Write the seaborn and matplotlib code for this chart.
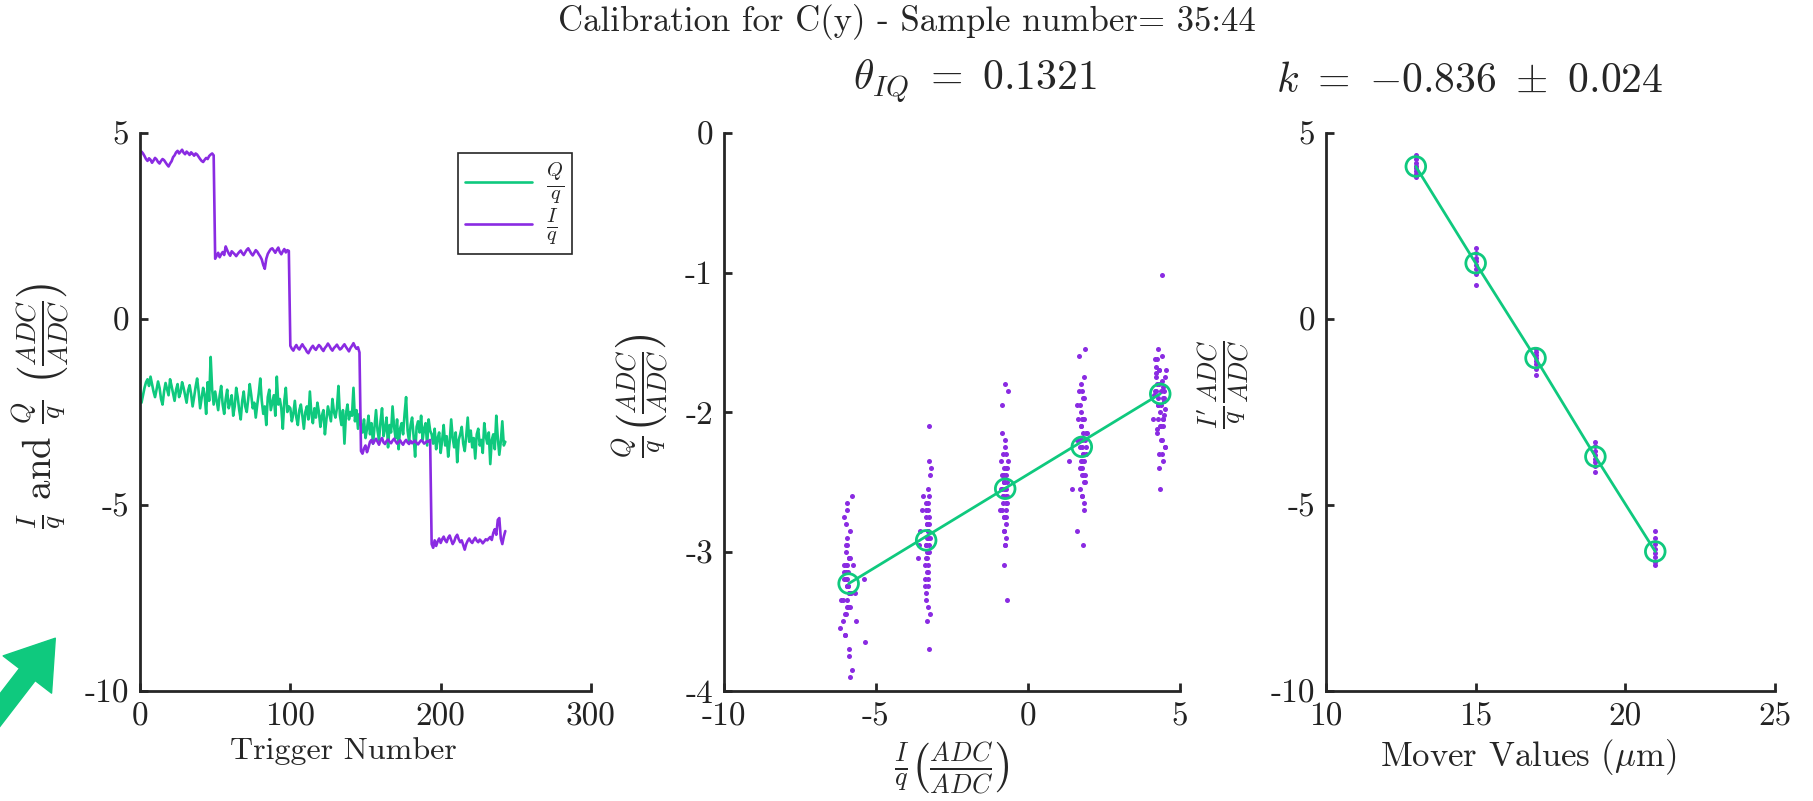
import numpy as np
import pandas as pd
import matplotlib
matplotlib.use("Agg")
import matplotlib.pyplot as plt
import seaborn as sns
from matplotlib.patches import FancyArrowPatch

# ── data ─────────────────────────────────────────────────────────────────────
i_seg1 = [4.50, 4.45, 4.38, 4.30, 4.25, 4.32, 4.28, 4.20, 4.26, 4.33,
          4.29, 4.22, 4.18, 4.25, 4.30, 4.27, 4.21, 4.15, 4.10, 4.18,
          4.24, 4.35, 4.40, 4.48, 4.52, 4.45, 4.50, 4.55, 4.47, 4.43,
          4.50, 4.46, 4.41, 4.48, 4.44, 4.39, 4.45, 4.42, 4.36, 4.30,
          4.25, 4.22, 4.28, 4.33, 4.30, 4.38, 4.42, 4.45, 4.40]
i_seg2 = [1.62, 1.70, 1.78, 1.66, 1.74, 1.80, 1.72, 1.95, 1.85, 1.76,
          1.70, 1.82, 1.78, 1.74, 1.69, 1.75, 1.80, 1.84, 1.77, 1.72,
          1.79, 1.86, 1.90, 1.83, 1.76, 1.71, 1.78, 1.85, 1.81, 1.74,
          1.68, 1.60, 1.45, 1.35, 1.62, 1.75, 1.82, 1.88, 1.90, 1.84,
          1.78, 1.86, 1.92, 1.80, 1.74, 1.82, 1.88, 1.79, 1.85, 1.83]
i_seg3 = [-0.72, -0.80, -0.85, -0.76, -0.70, -0.78, -0.82, -0.74, -0.68, -0.75,
          -0.80, -0.88, -0.92, -0.84, -0.77, -0.72, -0.79, -0.83, -0.76, -0.70,
          -0.74, -0.81, -0.86, -0.78, -0.73, -0.66, -0.72, -0.80, -0.85, -0.78,
          -0.74, -0.69, -0.76, -0.82, -0.79, -0.73, -0.68, -0.75, -0.81, -0.87,
          -0.78, -0.72, -0.65, -0.74, -0.80, -0.76, -0.90]
i_seg4 = [-3.55, -3.62, -3.48, -3.40, -3.58, -3.45, -3.30, -3.25, -3.35, -3.28,
          -3.22, -3.30, -3.38, -3.26, -3.20, -3.32, -3.36, -3.28, -3.24, -3.30,
          -3.34, -3.27, -3.22, -3.29, -3.35, -3.31, -3.26, -3.33, -3.38, -3.30,
          -3.25, -3.32, -3.36, -3.28, -3.34, -3.30, -3.27, -3.33, -3.37, -3.31,
          -3.26, -3.29, -3.35, -3.32, -3.28, -3.30, -3.25]
i_seg5 = [-6.05, -6.15, -5.95, -6.10, -5.98, -5.90, -6.02, -5.92, -5.85, -5.95,
          -6.00, -5.88, -5.82, -5.94, -6.05, -5.98, -5.86, -5.80, -5.92, -6.00,
          -5.95, -6.08, -6.20, -6.05, -5.96, -5.90, -5.98, -6.02, -5.94, -5.88,
          -5.96, -6.00, -5.93, -5.97, -6.03, -5.98, -5.92, -5.95, -5.90, -5.86,
          -5.94, -5.75, -5.65, -5.80, -5.40, -5.35, -5.90, -6.05, -5.85, -5.70]

q_seg1 = [-2.25, -2.05, -1.85, -1.70, -1.62, -1.80, -1.55, -1.75, -1.95, -2.10,
          -1.90, -1.68, -1.85, -2.15, -2.30, -1.95, -1.72, -1.88, -2.05, -1.62,
          -1.80, -2.00, -2.20, -1.90, -1.75, -2.10, -1.98, -1.70, -1.85, -2.05,
          -2.25, -1.92, -1.78, -2.02, -2.35, -2.10, -1.82, -1.60, -1.95, -2.40,
          -2.12, -1.85, -2.05, -2.55, -1.70, -2.20, -1.02, -1.90, -2.30]
q_seg2 = [-1.95, -2.20, -2.45, -2.05, -1.80, -2.30, -2.55, -2.15, -1.90, -2.40,
          -2.25, -2.05, -2.60, -2.35, -1.85, -2.10, -2.45, -2.70, -2.20, -1.95,
          -2.35, -2.50, -2.15, -1.75, -2.05, -2.40, -2.25, -2.65, -2.30, -2.00,
          -1.60, -2.20, -2.55, -2.35, -2.85, -2.10, -1.90, -2.45, -2.25, -2.05,
          -2.60, -1.55, -2.30, -2.15, -2.40, -2.95, -2.20, -1.85, -2.50, -2.35]
q_seg3 = [-2.40, -2.75, -2.55, -2.20, -2.65, -2.85, -2.45, -2.30, -2.60, -2.95,
          -2.50, -2.35, -2.70, -1.95, -2.55, -2.80, -2.40, -2.65, -2.25, -2.50,
          -2.90, -2.60, -2.45, -3.10, -2.70, -2.35, -2.55, -2.75, -2.15, -2.50,
          -2.65, -2.40, -1.80, -2.60, -2.85, -2.45, -3.35, -2.55, -2.30, -2.70,
          -2.50, -2.60, -1.85, -2.75, -2.45, -2.95, -2.55]
q_seg4 = [-2.85, -3.05, -2.70, -3.20, -2.95, -2.60, -3.10, -2.80, -3.35, -2.90,
          -2.45, -3.00, -3.25, -2.75, -2.40, -3.15, -2.95, -2.65, -3.45, -2.85,
          -3.05, -2.35, -2.90, -3.20, -2.70, -3.50, -2.95, -2.80, -3.10, -2.55,
          -2.10, -3.00, -3.30, -2.85, -2.65, -3.15, -3.70, -2.90, -2.75, -3.05,
          -2.60, -3.25, -2.95, -2.80, -3.40, -2.70, -3.00]
q_seg5 = [-3.10, -3.35, -2.95, -3.50, -3.20, -3.05, -3.60, -3.25, -2.85, -3.40,
          -3.15, -3.70, -3.30, -2.70, -3.20, -3.45, -3.05, -3.85, -3.25, -3.10,
          -2.90, -3.35, -3.55, -3.15, -2.65, -3.30, -3.00, -3.45, -3.20, -3.75,
          -3.10, -2.95, -3.40, -3.25, -3.60, -2.80, -3.15, -3.35, -3.05, -3.90,
          -3.25, -3.10, -3.50, -2.60, -3.20, -3.65, -3.30, -2.75, -3.40, -3.30]

i_over_q = i_seg1 + i_seg2 + i_seg3 + i_seg4 + i_seg5
q_over_q = q_seg1 + q_seg2 + q_seg3 + q_seg4 + q_seg5
trigger = list(range(1, len(i_over_q) + 1))

# cluster means (green circles) and IQ fit line
mean_i = [-5.90, -3.35, -0.75, 1.77, 4.35]
mean_q = [-3.23, -2.92, -2.55, -2.25, -1.87]
fit_i = [-5.90, 4.35]
fit_q = [-3.23, -1.87]

# rotated I' vs mover position
mover = [13, 15, 17, 19, 21]
mean_iprime = [4.10, 1.50, -1.05, -3.70, -6.25]
iprime_pts = {
    13: [4.40, 4.30, 4.20, 4.12, 4.05, 3.98, 3.90, 3.82],
    15: [1.90, 1.78, 1.65, 1.55, 1.45, 1.35, 1.20, 0.92],
    17: [-0.80, -0.90, -0.98, -1.05, -1.12, -1.20, -1.35, -1.50],
    19: [-3.30, -3.42, -3.55, -3.65, -3.75, -3.85, -3.95, -4.10],
    21: [-5.70, -5.90, -6.05, -6.18, -6.28, -6.40, -6.52, -6.62],
}

PURPLE = "#8a2be2"
GREEN = "#0fc97e"
AX_COL = "#262626"

sns.set_style("ticks")
plt.rcParams["font.family"] = ["cmr10"]
plt.rcParams["mathtext.fontset"] = "cm"
plt.rcParams["axes.unicode_minus"] = False
plt.rcParams["axes.formatter.use_mathtext"] = False

df_t = pd.DataFrame({
    "trigger": trigger * 2,
    "val": q_over_q + i_over_q,
    "series": [r"$\frac{Q}{q}$"] * len(q_over_q) + [r"$\frac{I}{q}$"] * len(i_over_q),
})
df_iq = pd.DataFrame({"I": i_over_q, "Q": q_over_q})
df_mean = pd.DataFrame({"I": mean_i, "Q": mean_q})
df_fit = pd.DataFrame({"I": fit_i, "Q": fit_q})
df_k = pd.DataFrame([(m, v) for m in mover for v in iprime_pts[m]], columns=["mover", "Ip"])
df_kmean = pd.DataFrame({"mover": mover, "Ip": mean_iprime})

fig = plt.figure(figsize=(18.13, 8.01), dpi=100)
W, H = 1813, 801
ax1 = fig.add_axes([140 / W, 110 / H, 451 / W, 558 / H])
ax2 = fig.add_axes([724 / W, 110 / H, 456 / W, 558 / H])
ax3 = fig.add_axes([1326 / W, 110 / H, 449 / W, 558 / H])

# panel 1: raw I/q and Q/q per trigger
sns.lineplot(data=df_t, x="trigger", y="val", hue="series",
             palette=[GREEN, PURPLE], linewidth=1.9, ax=ax1)
ax1.set_xlim(0, 300)
ax1.set_ylim(-10, 5)
ax1.set_xticks([0, 100, 200, 300])
ax1.set_yticks([-10, -5, 0, 5])
ax1.set_xlabel("Trigger Number", fontsize=23)
ax1.set_ylabel(r"$\frac{I}{q}$ and $\frac{Q}{q}$ $\left(\frac{ADC}{ADC}\right)$", fontsize=28)
leg = ax1.legend(loc="upper right", bbox_to_anchor=(0.99, 0.99), fontsize=21,
                 frameon=True, fancybox=False, handlelength=2.3, borderpad=0.25,
                 labelspacing=0.05, handletextpad=0.5)
leg.get_frame().set_edgecolor(AX_COL)
leg.get_frame().set_linewidth(1.2)
leg.get_frame().set_alpha(1)

# panel 2: Q vs I scatter with cluster means and fit
sns.scatterplot(data=df_iq, x="I", y="Q", color=PURPLE, s=13, linewidth=0, ax=ax2)
sns.lineplot(data=df_fit, x="I", y="Q", color=GREEN, linewidth=2, ax=ax2)
sns.scatterplot(data=df_mean, x="I", y="Q", marker="o", s=200, facecolors="none",
                edgecolor=GREEN, linewidth=2, ax=ax2)
ax2.set_xlim(-10, 5)
ax2.set_ylim(-4, 0)
ax2.set_xticks([-10, -5, 0, 5])
ax2.set_yticks([-4, -3, -2, -1, 0])
ax2.set_xlabel(r"$\frac{I}{q}\left(\frac{ADC}{ADC}\right)$", fontsize=27)
ax2.set_ylabel(r"$\frac{Q}{q}\left(\frac{ADC}{ADC}\right)$", fontsize=27)
ax2.text(0.55, 1.093, r"$\theta_{IQ}\ =\ 0.1321$", transform=ax2.transAxes,
         ha="center", va="center", fontsize=30)

# panel 3: rotated I' vs mover
sns.scatterplot(data=df_k, x="mover", y="Ip", color=PURPLE, s=13, linewidth=0, ax=ax3)
sns.lineplot(data=df_kmean, x="mover", y="Ip", color=GREEN, linewidth=2, ax=ax3)
sns.scatterplot(data=df_kmean, x="mover", y="Ip", marker="o", s=200, facecolors="none",
                edgecolor=GREEN, linewidth=2, ax=ax3)
ax3.set_xlim(10, 25)
ax3.set_ylim(-10, 5)
ax3.set_xticks([10, 15, 20, 25])
ax3.set_yticks([-10, -5, 0, 5])
ax3.set_xlabel(r"Mover Values ($\mu$m)", fontsize=25)
ax3.set_ylabel(r"$\frac{I'}{q}\frac{ADC}{ADC}$", fontsize=27)
ax3.text(0.32, 1.093, r"$k\ =\ {-0.836}\ \pm\ 0.024$", transform=ax3.transAxes,
         ha="center", va="center", fontsize=30)

for ax in (ax1, ax2, ax3):
    sns.despine(ax=ax)
    for sp in ("left", "bottom"):
        ax.spines[sp].set_linewidth(2)
        ax.spines[sp].set_color(AX_COL)
    ax.tick_params(direction="in", length=6, width=2, color=AX_COL,
                   labelsize=24, labelcolor="#222222", pad=8)

ax1.xaxis.set_label_coords(0.45, -0.082)
ax2.xaxis.set_label_coords(0.5, -0.09)
ax3.xaxis.set_label_coords(0.45, -0.082)
ax1.yaxis.set_label_coords(-0.15, 0.51)
ax2.yaxis.set_label_coords(-0.115, 0.53)
ax3.yaxis.set_label_coords(-0.165, 0.55)

fig.suptitle("Calibration for C(y) - Sample number= 35:44", fontsize=25, y=0.995)

# green pointer arrow in the lower-left corner
arrow = FancyArrowPatch((-70 / W, 0.0), (57 / W, 1 - 636 / H), transform=fig.transFigure,
                        arrowstyle="simple,head_length=1.5,head_width=2.0,tail_width=0.65",
                        mutation_scale=22, color=GREEN, clip_on=False)
fig.add_artist(arrow)

fig.savefig("out.png", dpi=100)
